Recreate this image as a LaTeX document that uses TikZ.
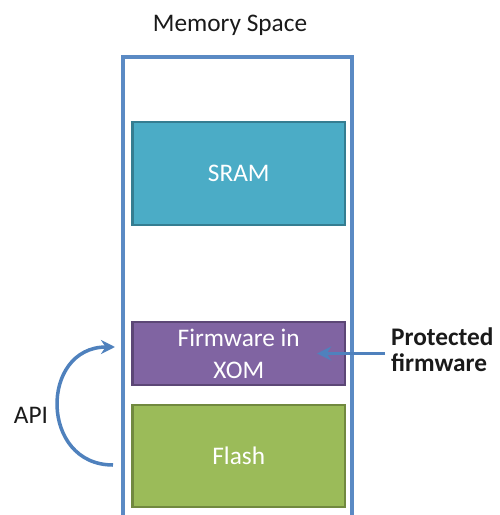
\documentclass[tikz,border=0pt]{standalone}
\usepackage{fontspec}
\setmainfont{Carlito}
\usetikzlibrary{arrows.meta,positioning}
\definecolor{frame}{HTML}{5B8AC4}
\definecolor{flowblue}{HTML}{4F81BD}
\definecolor{sramfill}{HTML}{4BACC6}
\definecolor{sramline}{HTML}{357D91}
\definecolor{xomfill}{HTML}{8064A2}
\definecolor{xomline}{HTML}{5C4776}
\definecolor{flashfill}{HTML}{9BBB59}
\definecolor{flashline}{HTML}{71893F}
\definecolor{ink}{HTML}{1A1A1A}

\begin{document}
\begin{tikzpicture}[x=1cm,y=1cm,every node/.style={font=\fontsize{14.4}{18.2}\selectfont,text=ink},block/.style={minimum width=4.25cm,text=white,align=center,line width=1.3pt,inner sep=0pt},flow/.style={-{Stealth[length=8pt,width=8pt]},flowblue,line width=2pt}]
\path[use as bounding box] (0,0) rectangle (10,10.3);

\draw[frame,line width=1.8pt] (2.46,-.1)--(2.46,9.16)--(7.04,9.16)--(7.04,-.1);
\node (mem) at (4.6,9.8) {Memory Space};
\node[block,fill=sramfill,draw=sramline,minimum height=2.06cm] (sram) at (4.775,6.83) {SRAM};
\node[block,fill=xomfill,draw=xomline,minimum height=1.26cm] (fw) at (4.775,3.23) {Firmware in\\XOM};
\node[block,fill=flashfill,draw=flashline,minimum height=2.04cm] (flash) at (4.775,1.18) {Flash};
\node[anchor=west,align=left,font=\bfseries\fontsize{14.4}{14.8}\selectfont] (prot) at (7.7,3.3) {Protected\\firmware};
\node (api) at (.62,2.0) {API};
\coordinate (apifrom) at (2.26,1.0);
\coordinate (apito) at (2.30,3.36);
\draw[flow] (prot.west |- fw.east)--([xshift=-.58cm]fw.east);
\draw[flow] (apifrom) .. controls (.79,1.0) and (.79,3.36) .. (apito);

\end{tikzpicture}
\end{document}
